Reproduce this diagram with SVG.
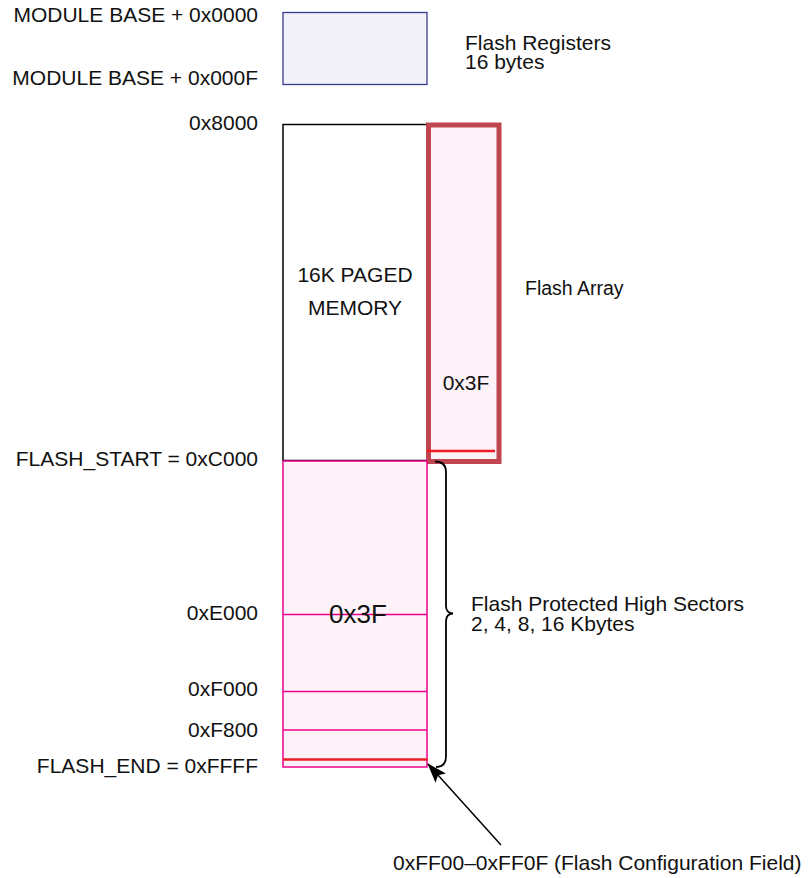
<svg xmlns="http://www.w3.org/2000/svg" width="811" height="878" viewBox="0 0 811 878">
<style>
text{font-family:"Liberation Sans",Arial,sans-serif;font-size:21px;fill:#111}
.r{text-anchor:end}
.m{text-anchor:middle}
.pink{fill:#fdf2f8;stroke:#ec008c;stroke-width:1.5}
.pl{stroke:#ec008c;stroke-width:1.5}
.red{stroke:#ed1c24;stroke-width:2.5}
</style>
<defs>
<marker id="ah" viewBox="0 0 20 14" refX="19" refY="7" markerWidth="20" markerHeight="14" markerUnits="userSpaceOnUse" orient="auto">
<path d="M0,0 L20,7 L0,14 L4,7 Z" fill="#000"/>
</marker>
</defs>
<g id="labels">
<text class="r" x="258" y="22">MODULE BASE + 0x0000</text>
<text class="r" x="258" y="85">MODULE BASE + 0x000F</text>
<text class="r" x="258" y="130">0x8000</text>
<text class="r" x="258" y="466">FLASH_START = 0xC000</text>
<text class="r" x="258" y="620">0xE000</text>
<text class="r" x="258" y="696">0xF000</text>
<text class="r" x="258" y="737">0xF800</text>
<text class="r" x="258" y="773">FLASH_END = 0xFFFF</text>
</g>
<g id="flash-registers">
<rect x="283" y="12.5" width="144" height="72" fill="#f2f2f8" stroke="#3a3a96" stroke-width="1.3"/>
<text x="465" y="50">Flash Registers</text>
<text x="465" y="69">16 bytes</text>
</g>
<g id="paged-memory">
<rect x="283" y="124.5" width="145" height="336" fill="#fff" stroke="#000" stroke-width="1.5"/>
<text class="m" x="355" y="282">16K PAGED</text>
<text class="m" x="355" y="315">MEMORY</text>
</g>
<g id="flash-array">
<rect x="428.5" y="125" width="70.5" height="336.5" fill="#fdf2f8" stroke="#bf4650" stroke-width="5"/>
<line class="red" x1="427" y1="451" x2="495" y2="451"/>
<text class="m" x="466" y="390">0x3F</text>
<text x="525" y="295" style="font-size:19.5px">Flash Array</text>
</g>
<g id="protected-sectors">
<rect class="pink" x="283" y="461" width="144" height="306"/>
<line class="pl" x1="283" y1="614.5" x2="427" y2="614.5"/>
<line class="pl" x1="283" y1="691.5" x2="427" y2="691.5"/>
<line class="pl" x1="283" y1="730" x2="427" y2="730"/>
<line class="red" x1="283" y1="759.5" x2="428" y2="759.5"/>
<text class="m" x="358" y="623" style="font-size:26px">0x3F</text>
<text x="471" y="611">Flash Protected High Sectors</text>
<text x="471" y="631">2, 4, 8, 16 Kbytes</text>
</g>
<g id="config-field">
<text x="393" y="870">0xFF00–0xFF0F (Flash Configuration Field)</text>
</g>
<g id="connectors" fill="none" stroke="#000">
<path d="M435,461.5 Q446,461.5 446,472 L446,606 Q446,613 453,613.5 Q446,614 446,621 L446,756 Q446,767 436,767" stroke-width="1.8"/>
<line x1="501" y1="845" x2="428" y2="764" stroke-width="1.5" marker-end="url(#ah)"/>
</g>
</svg>
